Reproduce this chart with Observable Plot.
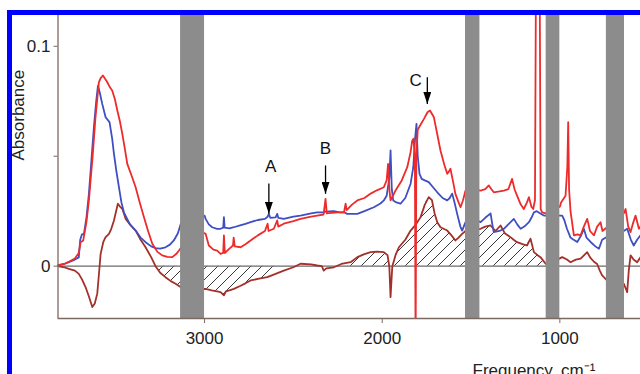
<!DOCTYPE html>
<html><head><meta charset="utf-8">
<script src="https://cdn.jsdelivr.net/npm/d3@7"></script>
<script src="https://cdn.jsdelivr.net/npm/@observablehq/plot@0.6"></script>
<style>
html,body{margin:0;padding:0;width:640px;height:374px;overflow:hidden;background:#fff}
#chart{position:absolute;left:0;top:0;}
#frame{position:absolute;left:7px;top:10px;width:700px;height:400px;border-top:5px solid #0000ff;border-left:5px solid #0000ff;}
</style></head><body>
<div id="chart"></div><div id="frame"></div>
<script>
// ---- data (frequency cm^-1, absorbance) ----
const xTicks = [3000, 2000, 1000];
const yTicks = [0, 0.05, 0.1];
const yTickLabels = ["0", "", "0.1"];
const xDomain = [3825, 546];
const yDomain = [-0.0238, 0.114];
const bandStart = [3135, 1531, 1077, 738];
const bandEnd = [3000, 1450, 1000, 636];
const hatchNegRange = [3276, 2580];
const hatchPosRange = [2180, 1080];
const annLabels = ["A", "B", "C"];
const annLabelFreq = [2628, 2319, 1812];
const annLabelAbs = [0.0451, 0.0534, 0.0844];
const arrowFreq = [2638, 2319, 1746];
const arrowTop = [0.0376, 0.0458, 0.0859];
const arrowTip = [0.0238, 0.0329, 0.0738];

const blueSpectrum = [
[3825,0.0005],[3790,0.001],[3764,0.0018],[3730,0.003],[3708,0.004],[3700,0.012],[3690,0.0145],[3679,0.0147],
[3665,0.022],[3651,0.033],[3637,0.048],[3623,0.0632],[3610,0.075],[3600,0.0821],[3590,0.079],[3576,0.0738],
[3557,0.0677],[3535,0.0655],[3520,0.058],[3510,0.0511],[3496,0.043],[3482,0.0359],[3468,0.029],[3454,0.0245],
[3420,0.019],[3388,0.0162],[3360,0.013],[3332,0.0109],[3300,0.009],[3276,0.0082],[3250,0.008],[3220,0.0086],
[3195,0.0098],[3173,0.0117],[3150,0.015],[3135,0.019],[3100,0.023],[3000,0.023],[2994,0.0215],[2976,0.019],
[2957,0.0177],[2930,0.017],[2910,0.017],[2895,0.0175],[2891,0.0223],[2887,0.0175],[2860,0.0172],[2835,0.0177],
[2800,0.0185],[2770,0.0192],[2741,0.02],[2700,0.021],[2660,0.0215],[2645,0.0225],[2638,0.0238],[2630,0.022],
[2600,0.0222],[2591,0.0238],[2585,0.022],[2554,0.0215],[2500,0.0225],[2460,0.023],[2400,0.024],[2366,0.0245],
[2330,0.0245],[2319,0.0248],[2272,0.025],[2240,0.0245],[2215,0.0245],[2197,0.0238],[2170,0.0238],[2140,0.0238],
[2100,0.025],[2047,0.0268],[2010,0.0285],[1991,0.0299],[1975,0.032],[1960,0.04],[1953,0.0526],[1946,0.035],
[1938,0.0299],[1920,0.029],[1897,0.0284],[1870,0.031],[1840,0.0375],[1825,0.045],[1815,0.058],[1807,0.0647],
[1800,0.05],[1790,0.042],[1778,0.0397],[1760,0.039],[1738,0.0382],[1715,0.036],[1690,0.0336],[1660,0.031],
[1634,0.0299],[1620,0.031],[1606,0.033],[1590,0.028],[1578,0.0238],[1560,0.018],[1550,0.0162],[1531,0.02],
[1500,0.022],[1446,0.02],[1420,0.022],[1390,0.024],[1380,0.019],[1372,0.0155],[1340,0.016],[1315,0.017],
[1290,0.019],[1259,0.0215],[1240,0.019],[1221,0.017],[1200,0.018],[1174,0.02],[1160,0.022],[1146,0.0245],
[1130,0.025],[1110,0.024],[1090,0.023],[1050,0.023],[987,0.023],[975,0.021],[960,0.017],[940,0.013],
[931,0.0125],[902,0.011],[880,0.014],[865,0.017],[850,0.013],[827,0.011],[800,0.009],[780,0.0079],
[762,0.012],[700,0.015],[640,0.016],[621,0.017],[600,0.012],[584,0.0094],[565,0.012],[546,0.014]
];

const redSpectrum = [
[3825,0.0003],[3790,0.001],[3764,0.002],[3730,0.0035],[3708,0.006],[3698,0.0109],[3683,0.0117],[3665,0.02],
[3651,0.03],[3630,0.05],[3614,0.0677],[3595,0.0836],[3585,0.0855],[3572,0.0867],[3550,0.084],[3530,0.081],
[3520,0.0799],[3505,0.076],[3491,0.0708],[3477,0.066],[3463,0.0602],[3450,0.054],[3435,0.0465],[3410,0.041],
[3388,0.0359],[3365,0.029],[3341,0.0223],[3318,0.016],[3294,0.0102],[3265,0.0065],[3238,0.0049],[3210,0.0042],
[3182,0.0041],[3160,0.0055],[3144,0.0071],[3100,0.012],[3000,0.015],[2994,0.0147],[2976,0.0094],[2950,0.0075],
[2929,0.0071],[2910,0.0056],[2895,0.006],[2891,0.014],[2886,0.006],[2860,0.008],[2840,0.0094],[2836,0.013],
[2830,0.009],[2797,0.0086],[2770,0.01],[2741,0.0117],[2700,0.014],[2660,0.016],[2645,0.0193],[2640,0.016],
[2610,0.017],[2591,0.0208],[2585,0.018],[2554,0.0193],[2500,0.0205],[2460,0.0215],[2400,0.0225],[2366,0.023],
[2330,0.0235],[2319,0.0306],[2312,0.024],[2300,0.0241],[2250,0.0245],[2215,0.0245],[2206,0.0284],[2200,0.0255],
[2170,0.028],[2140,0.0299],[2100,0.031],[2065,0.033],[2030,0.0345],[1991,0.0359],[1975,0.039],[1967,0.0465],
[1960,0.035],[1953,0.0299],[1940,0.032],[1925,0.0344],[1890,0.039],[1859,0.045],[1840,0.052],[1831,0.0571],
[1824,0.058],[1816,0.05],[1812,-0.04],[1808,0.05],[1800,0.062],[1790,0.0635],[1765,0.067],[1745,0.07],
[1731,0.0708],[1709,0.0677],[1690,0.06],[1672,0.0526],[1650,0.046],[1634,0.042],[1625,0.043],[1616,0.0443],
[1600,0.038],[1588,0.0329],[1570,0.029],[1559,0.0268],[1545,0.03],[1531,0.0344],[1500,0.035],[1446,0.0344],
[1420,0.035],[1400,0.0367],[1385,0.035],[1372,0.0336],[1340,0.034],[1315,0.0344],[1290,0.035],[1269,0.0397],
[1255,0.035],[1241,0.0321],[1220,0.028],[1203,0.026],[1185,0.029],[1174,0.0314],[1160,0.027],[1150,0.026],
[1140,0.03],[1134,0.14],[1124,0.12],[1114,0.14],[1108,0.026],[1100,0.0245],[1080,0.024],[1000,0.027],
[993,0.029],[968,0.032],[958,0.045],[953,0.0655],[948,0.035],[940,0.025],[921,0.014],[900,0.0145],
[883,0.014],[865,0.018],[846,0.0215],[830,0.016],[808,0.014],[790,0.018],[771,0.02],[760,0.016],
[700,0.02],[640,0.024],[630,0.026],[615,0.018],[602,0.0155],[590,0.019],[574,0.023],[555,0.017],[546,0.018]
];

const diffSpectrum = [
[3825,0],[3790,-0.0005],[3764,-0.0012],[3730,-0.002],[3708,-0.0035],[3690,-0.006],[3670,-0.0095],[3650,-0.014],
[3632,-0.0186],[3618,-0.017],[3604,-0.0125],[3595,-0.004],[3585,0.0056],[3570,0.011],[3557,0.0132],[3538,0.0147],
[3525,0.017],[3510,0.0208],[3498,0.025],[3488,0.0284],[3475,0.027],[3463,0.0261],[3444,0.0215],[3420,0.019],
[3388,0.0162],[3360,0.012],[3332,0.0086],[3300,0.004],[3276,0],[3250,-0.003],[3220,-0.005],[3190,-0.0068],
[3163,-0.008],[3135,-0.0095],[3050,-0.0105],[2994,-0.0103],[2960,-0.011],[2930,-0.0115],[2910,-0.0118],
[2891,-0.0133],[2880,-0.0115],[2860,-0.011],[2835,-0.0103],[2800,-0.009],[2770,-0.0078],[2741,-0.0065],
[2700,-0.0058],[2647,-0.005],[2600,-0.0035],[2554,-0.002],[2500,-0.0005],[2460,0.0011],[2400,0.0008],
[2366,0.0003],[2340,0],[2329,-0.002],[2315,-0.001],[2272,-0.0005],[2230,0.001],[2178,0.0018],[2140,0.0041],
[2100,0.0055],[2065,0.0064],[2030,0.0066],[1991,0.0064],[1970,0.005],[1960,0],[1953,-0.0141],[1946,-0.004],
[1943,0],[1925,0.005],[1906,0.0086],[1870,0.012],[1840,0.0162],[1810,0.019],[1784,0.0223],[1760,0.028],
[1738,0.0314],[1720,0.03],[1705,0.024],[1690,0.02],[1672,0.0177],[1634,0.0162],[1610,0.014],[1588,0.0117],
[1570,0.013],[1550,0.0147],[1531,0.016],[1446,0.017],[1420,0.018],[1390,0.0185],[1362,0.016],[1334,0.0185],
[1310,0.015],[1278,0.0132],[1260,0.012],[1241,0.0109],[1210,0.01],[1185,0.0094],[1165,0.0125],[1146,0.0064],
[1125,0.005],[1109,0.0041],[1080,0.0011],[1060,0.001],[987,0.0041],[960,0.003],[940,0.0018],[910,0.003],
[883,0.0034],[846,0.0064],[830,0.004],[808,0.002],[790,0.001],[775,-0.002],[762,-0.0042],[740,-0.006],
[700,-0.008],[640,-0.008],[621,-0.0118],[612,-0.002],[602,0.0049],[585,0.003],[565,0.0018],[546,0.004]
];

// ---- build tables ----
const rows = a => a.map(([f, v]) => ({f, v}));
const blueRows = rows(blueSpectrum), redRows = rows(redSpectrum), diffRows = rows(diffSpectrum);
const negHatch = diffRows.filter(d => d.f <= hatchNegRange[0] && d.f >= hatchNegRange[1]);
const posHatch = diffRows.filter(d => d.f <= hatchPosRange[0] && d.f >= hatchPosRange[1]);
const bandRows = bandStart.map((a, i) => ({a, b: bandEnd[i]}));
const annRows = annLabels.map((t, i) => ({t, f: annLabelFreq[i], v: annLabelAbs[i]}));
const arrowRows = arrowFreq.map((f, i) => ({f, top: arrowTop[i], tip: arrowTip[i]}));
const yLabelOf = new Map(yTicks.map((t, i) => [t, yTickLabels[i]]));

const axisColor = "#7a6a62";
const font = "'Liberation Sans', Arial, sans-serif";

const plot = Plot.plot({
  width: 640, height: 374,
  marginLeft: 57.5, marginRight: 0, marginTop: 15, marginBottom: 56,
  style: {fontFamily: font, fontSize: "17px", background: "transparent", color: "#222"},
  x: {domain: xDomain},
  y: {domain: yDomain},
  marks: [
    Plot.areaY(negHatch, {x: "f", y1: 0, y2: d => Math.min(d.v, 0), fill: "url(#hatch)", clip: true}),
    Plot.areaY(posHatch, {x: "f", y1: 0, y2: d => Math.max(d.v, 0), fill: "url(#hatch)", clip: true}),
    Plot.ruleY([0], {stroke: "#6a6a6a", strokeWidth: 1.3}),
    Plot.line(diffRows, {x: "f", y: "v", stroke: "#a3302a", strokeWidth: 1.8, clip: true}),
    Plot.line(blueRows, {x: "f", y: "v", stroke: "#3f4fc2", strokeWidth: 1.8, clip: true}),
    Plot.line(redRows, {x: "f", y: "v", stroke: "#ee2b2b", strokeWidth: 1.8, clip: true}),
    Plot.rect(bandRows, {x1: "a", x2: "b", y1: yDomain[0], y2: yDomain[1], fill: "#8c8c8c"}),
    Plot.ruleX([xDomain[0]], {stroke: axisColor, strokeWidth: 1.3}),
    Plot.ruleY([yDomain[0]], {stroke: axisColor, strokeWidth: 1.3}),
    Plot.axisX({ticks: xTicks, tickSize: 5, tickPadding: 8, tickFormat: d => String(d), stroke: axisColor, fill: "#222", fontSize: 17, label: null}),
    Plot.axisY({ticks: yTicks, tickSize: 4, tickPadding: 3.5, tickFormat: d => yLabelOf.get(d), stroke: axisColor, fill: "#222", fontSize: 17, label: null}),
    Plot.link(arrowRows, {x1: "f", x2: "f", y1: "top", y2: "tip", stroke: "#000", strokeWidth: 1.3}),
    Plot.text(annRows, {x: "f", y: "v", text: "t", fontSize: 17, fill: "#111"}),
    Plot.text(["Absorbance"], {text: d => d, frameAnchor: "left", rotate: -90, dx: -39.5, dy: -6.5, fontSize: 17, fill: "#222"}),
    Plot.text(["Frequency, cm⁻¹"], {text: d => d, frameAnchor: "bottom-left", textAnchor: "start", lineAnchor: "top", dx: 414.5, dy: 45, fontSize: 17, fill: "#222"})
  ]
});

const svg = d3.select(plot);
const defs = svg.insert("defs", ":first-child");
defs.append("pattern").attr("id", "hatch").attr("patternUnits", "userSpaceOnUse")
  .attr("width", 11).attr("height", 11)
  .append("path").attr("d", "M-1,1L1,-1M0,11L11,0M10,12L12,10")
  .attr("stroke", "#222").attr("stroke-width", 0.9).attr("fill", "none");
defs.append("marker").attr("id", "ahead").attr("viewBox", "0 0 12 8")
  .attr("refX", 12).attr("refY", 4).attr("markerUnits", "userSpaceOnUse")
  .attr("markerWidth", 12).attr("markerHeight", 8).attr("orient", "auto")
  .append("path").attr("d", "M0,0L12,4L0,8Z").attr("fill", "#000");
svg.selectAll('g[aria-label="link"] path').attr("marker-end", "url(#ahead)");

document.getElementById("chart").appendChild(plot);
</script></body></html>
